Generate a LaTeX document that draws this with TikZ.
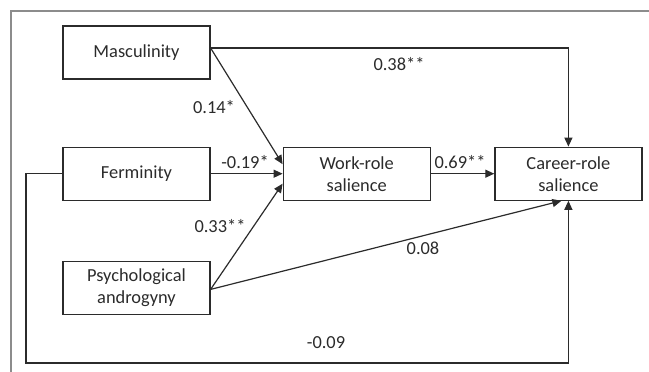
\documentclass[tikz,border=0pt]{standalone}
\usepackage{fontspec}
\setmainfont{Carlito}
\usepackage{tikz}
\usetikzlibrary{arrows.meta}
\usetikzlibrary{positioning}
\definecolor{InkGray}{HTML}{2B2B2B}
\definecolor{FrameGray}{HTML}{8C8C8C}

\begin{document}
\begin{tikzpicture}[x=1pt, y=-1pt,
    font=\fontsize{18.4}{22}\selectfont,
    >={Triangle[length=9pt,width=8pt]},
    line width=1.2pt,
    draw=InkGray,
    text=InkGray,
    varbox/.style={shape=rectangle,
      draw=InkGray,
      minimum width=147pt,
      minimum height=53pt,
      inner sep=0pt,
      align=center},
    coef/.style={inner sep=0pt}]
    \path [use as bounding box] (0,0) rectangle (649,372);

    % open frame
    \draw[FrameGray] (649,11) -| (11,372);

    \node[name=masc, varbox] at (136.5,52.5) {Masculinity};

    \node[name=fem,
      varbox,
      below=67pt of masc] {Ferminity};

    \node[name=andro,
      varbox,
      below=60pt of fem] {Psychological\\androgyny};

    \node[name=work,
      varbox,
      right=72pt of fem] {Work-role\\salience};

    \node[name=career,
      varbox,
      right=63.5pt of work] {Career-role\\salience};

    \coordinate (loopcorner) at (26,363);

    \draw[->] ([yshift=4.5pt]masc.east) -| (career.north);
    \draw[->] ([yshift=4.5pt]masc.east) -- ([yshift=9.5pt]work.west);
    \draw[->] (fem.east) -- (work.west);
    \draw[->] ([yshift=-1.5pt]andro.east) -- ([yshift=-10pt]work.west);
    \draw[->] (work.east) -- (career.west);
    \draw[->] ([yshift=-1.5pt]andro.east) -- ([xshift=-7pt]career.south);
    \draw[->] (fem.west) -| (loopcorner) -| (career.south);

    \node[name=cmasccar, coef] at (399,64) {0.38**};
    \node[name=cmascwork, coef] at (214,107) {0.14*};
    \node[name=cfemwork, coef] at (245,162) {-0.19*};
    \node[name=candwork, coef] at (220,226) {0.33**};
    \node[name=cworkcar, coef] at (460,162) {0.69**};
    \node[name=candcar, coef] at (423,248) {0.08};
    \node[name=cfemcar, coef] at (326,343) {-0.09};
  \end{tikzpicture}
\end{document}
